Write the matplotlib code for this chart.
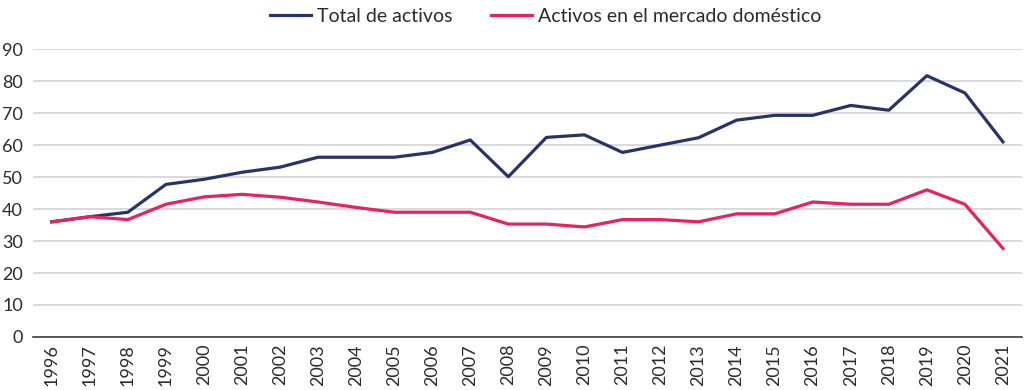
import matplotlib
matplotlib.use("Agg")
import matplotlib.pyplot as plt

plt.rcParams['font.family'] = ['Lato', 'DejaVu Sans']

years = [str(y) for y in range(1996, 2022)]
total_activos = [36.0, 37.6, 39.0, 47.7, 49.3, 51.5, 53.1, 56.2, 56.2, 56.2, 57.7, 61.6, 50.1,
                 62.4, 63.2, 57.7, 60.0, 62.3, 67.8, 69.3, 69.3, 72.4, 70.9, 81.7, 76.3, 61.0]
activos_domestico = [36.0, 37.6, 36.7, 41.5, 43.8, 44.6, 43.7, 42.2, 40.5, 39.0, 39.0, 39.0, 35.3,
                     35.3, 34.4, 36.7, 36.7, 36.0, 38.5, 38.5, 42.2, 41.5, 41.5, 46.0, 41.5, 27.7]

navy = '#27336a'
pink = '#e8225a'

fig = plt.figure(figsize=(10.24, 3.9), dpi=100)
ax = fig.add_axes([0.032, 0.136, 0.966, 0.738])

x = list(range(len(years)))
ax.plot(x, total_activos, color=navy, lw=2.3, label='Total de activos')
ax.plot(x, activos_domestico, color=pink, lw=2.3, label='Activos en el mercado doméstico')

ax.set_xlim(-0.5, len(years) - 0.5)
ax.set_ylim(0, 90)
ax.set_yticks(range(0, 91, 10))
ax.set_xticks(x)
ax.set_xticklabels(years, rotation=90)
ax.grid(axis='y', color='#d3d3d6', lw=1.2)
ax.set_axisbelow(True)
for s in ['top', 'right', 'left']:
    ax.spines[s].set_visible(False)
ax.spines['bottom'].set_color('#404040')
ax.spines['bottom'].set_linewidth(1.2)
ax.tick_params(axis='y', length=0, labelsize=13, pad=7, colors='#2b2b2b')
ax.tick_params(axis='x', length=0, labelsize=13, pad=5, colors='#2b2b2b')

leg = fig.legend(loc='upper center', bbox_to_anchor=(0.533, 1.025), ncol=2, frameon=False,
                 fontsize=14, handlelength=2.1, columnspacing=2.0, handletextpad=0.3)
for t in leg.get_texts():
    t.set_color('#2b2b2b')

fig.savefig('out.png', dpi=100)
